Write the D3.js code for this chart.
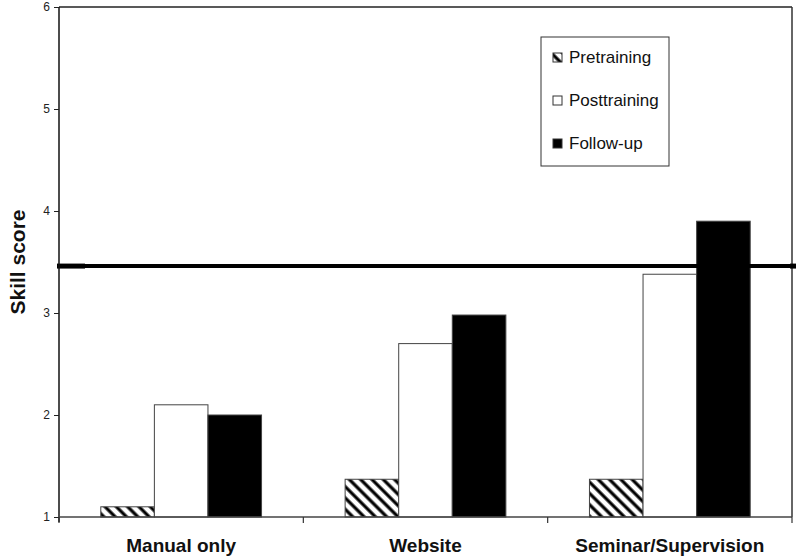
<!DOCTYPE html>
<html><head><meta charset="utf-8">
<script src="https://cdn.jsdelivr.net/npm/d3@7"></script>
<style>body{margin:0;background:#fff}svg{display:block}</style>
</head><body>
<script>
const categories = ["Manual only", "Website", "Seminar/Supervision"];
const seriesNames = ["Pretraining", "Posttraining", "Follow-up"];
const pretraining = [1.1, 1.37, 1.37];
const posttraining = [2.1, 2.7, 3.38];
const followup = [2.0, 2.98, 3.9];
const yTicks = [1, 2, 3, 4, 5, 6];
const referenceValue = 3.46;
const yTitle = "Skill score";

const W = 800, H = 560;
const m = {l: 59, r: 8, t: 7, b: 43};
const svg = d3.select("body").append("svg").attr("width", W).attr("height", H);
const defs = svg.append("defs");
const pat = defs.append("pattern").attr("id", "hatch").attr("patternUnits", "userSpaceOnUse")
  .attr("width", 8).attr("height", 8).attr("patternTransform", "rotate(45)");
pat.append("rect").attr("width", 8).attr("height", 8).attr("fill", "#fff");
pat.append("line").attr("x1", 0).attr("y1", 4).attr("x2", 8).attr("y2", 4)
  .attr("stroke", "#000").attr("stroke-width", 3.2);

const x0 = d3.scaleBand().domain(categories).range([m.l, W - m.r]).paddingInner(0).paddingOuter(0);
const x1 = d3.scaleBand().domain(seriesNames).range([0, x0.bandwidth()]).paddingOuter(0.78).paddingInner(0);
const y = d3.scaleLinear().domain([1, 6]).range([H - m.b, m.t]);

const data = categories.map((c, i) => ({cat: c, vals: [pretraining[i], posttraining[i], followup[i]]}));
const fills = ["url(#hatch)", "#fff", "#000"];
const font = "Liberation Sans, Arial, sans-serif";

// frame top/right
svg.append("line").attr("x1", m.l).attr("x2", W - m.r).attr("y1", y(6)).attr("y2", y(6)).attr("stroke", "#222").attr("stroke-width", 1.5);
svg.append("line").attr("x1", W - m.r).attr("x2", W - m.r).attr("y1", y(6)).attr("y2", y(1)).attr("stroke", "#333").attr("stroke-width", 1.5);

const g = svg.append("g");
data.forEach(d => {
  d.vals.forEach((v, j) => {
    g.append("rect")
      .attr("x", x0(d.cat) + x1(seriesNames[j]))
      .attr("width", x1.bandwidth())
      .attr("y", y(v))
      .attr("height", y(1) - y(v))
      .attr("fill", fills[j])
      .attr("stroke", "#444").attr("stroke-width", 1);
  });
});

// reference line
svg.append("line").attr("x1", m.l).attr("x2", W - m.r).attr("y1", y(referenceValue)).attr("y2", y(referenceValue))
  .attr("stroke", "#000").attr("stroke-width", 4);
svg.append("line").attr("x1", m.l - 2).attr("x2", m.l + 26).attr("y1", y(referenceValue)).attr("y2", y(referenceValue))
  .attr("stroke", "#000").attr("stroke-width", 5);
svg.append("line").attr("x1", W - m.r - 2).attr("x2", W - m.r + 4).attr("y1", y(referenceValue)).attr("y2", y(referenceValue))
  .attr("stroke", "#000").attr("stroke-width", 5);

// y axis
const yAx = svg.append("g").attr("transform", `translate(${m.l},0)`)
  .call(d3.axisLeft(y).tickValues(yTicks).tickFormat(d3.format("d")).tickSize(5).tickPadding(4));
yAx.select(".domain").attr("stroke", "#111").attr("stroke-width", 1.5).attr("d", `M0,${y(6)}V${y(1)+5}`);
yAx.selectAll("text").attr("font-family", font).attr("font-size", 12).attr("fill", "#222");
yAx.selectAll("line").attr("stroke", "#222");

// x axis
const xAx = svg.append("g").attr("transform", `translate(0,${y(1)})`);
xAx.append("line").attr("x1", m.l).attr("x2", W - m.r).attr("stroke", "#444").attr("stroke-width", 1.5);
const bounds = categories.map(c => x0(c)).concat([W - m.r]);
bounds.forEach(b => xAx.append("line").attr("x1", b).attr("x2", b).attr("y1", 0).attr("y2", 6).attr("stroke", "#333").attr("stroke-width", 1.2));
categories.forEach(c => {
  xAx.append("text").attr("x", x0(c) + x0.bandwidth() / 2).attr("y", 35)
    .attr("text-anchor", "middle").attr("font-family", font)
    .attr("font-weight", "bold").attr("font-size", 19).attr("fill", "#111").text(c);
});

// y title
svg.append("text").attr("transform", `translate(25,${(y(1)+y(6))/2}) rotate(-90)`)
  .attr("text-anchor", "middle").attr("font-family", font)
  .attr("font-weight", "bold").attr("font-size", 21).attr("fill", "#111").text(yTitle);

// legend
const lg = svg.append("g").attr("transform", "translate(541,37)");
lg.append("rect").attr("width", 128).attr("height", 129).attr("fill", "#fff").attr("stroke", "#333").attr("stroke-width", 1);
seriesNames.forEach((s, i) => {
  const yy = 21 + i * 43;
  lg.append("rect").attr("x", 12).attr("y", yy - 5).attr("width", 9).attr("height", 9)
    .attr("fill", fills[i]).attr("stroke", "#333").attr("stroke-width", 1);
  lg.append("text").attr("x", 28).attr("y", yy + 5).attr("font-family", font)
    .attr("font-size", 17).attr("fill", "#111").text(s);
});
</script>
</body></html>
